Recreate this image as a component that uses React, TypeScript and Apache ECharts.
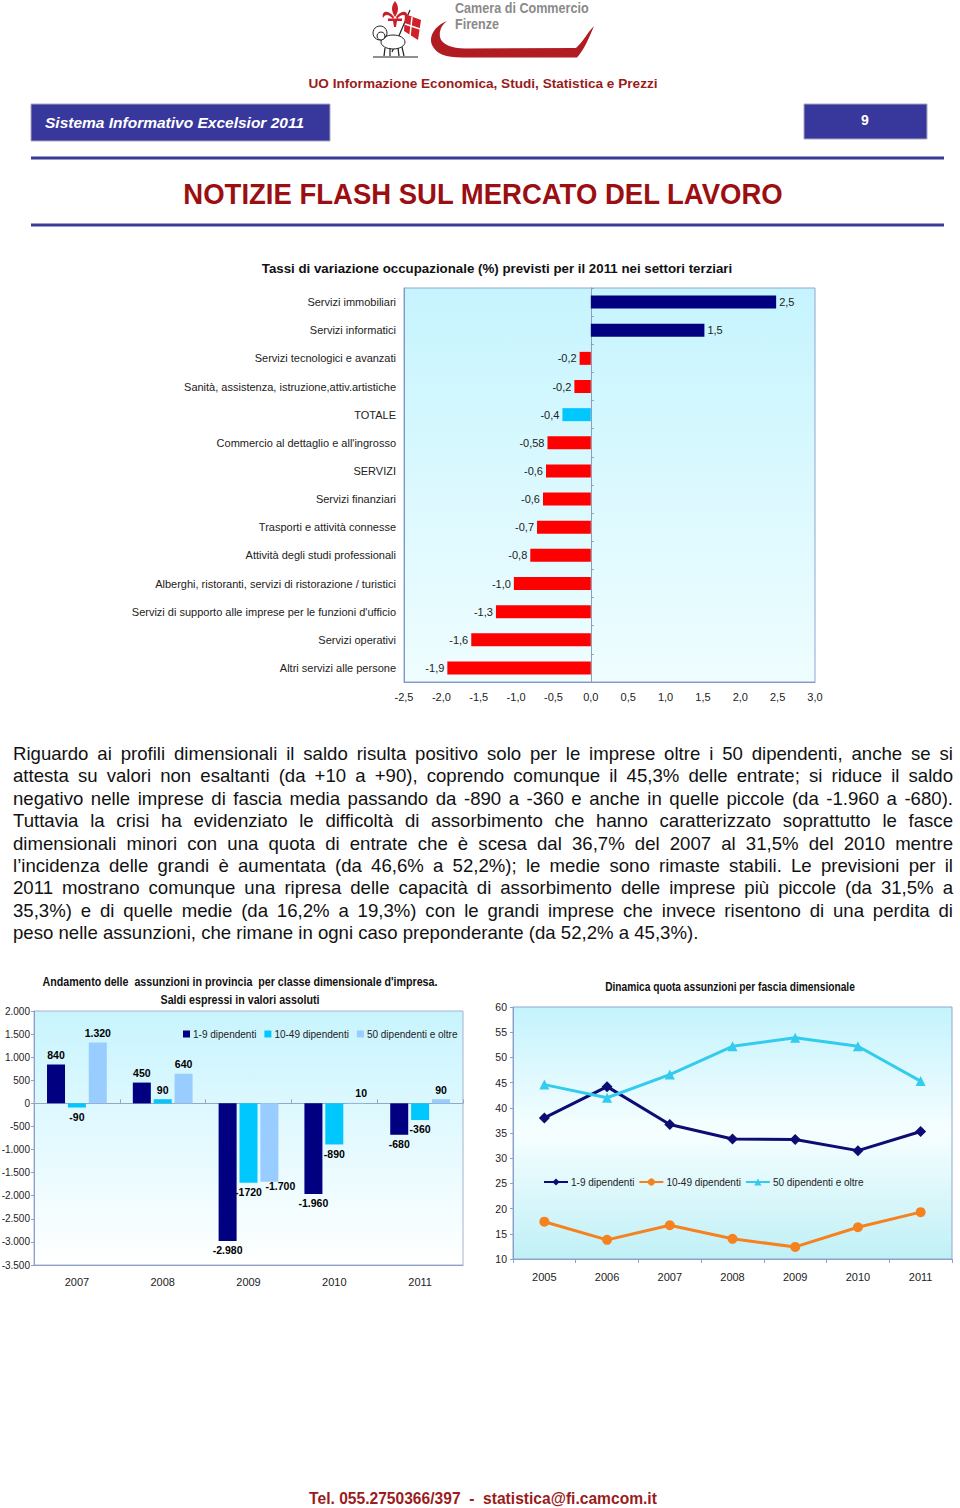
import React, { useEffect, useRef } from "react";
import * as echarts from "echarts";

// ---------- DATA ----------
const sectors = [
  "Servizi immobiliari",
  "Servizi informatici",
  "Servizi tecnologici e avanzati",
  "Sanità, assistenza, istruzione,attiv.artistiche",
  "TOTALE",
  "Commercio al dettaglio e all'ingrosso",
  "SERVIZI",
  "Servizi finanziari",
  "Trasporti e attività connesse",
  "Attività degli studi professionali",
  "Alberghi, ristoranti, servizi di ristorazione / turistici",
  "Servizi di supporto alle imprese per le funzioni d'ufficio",
  "Servizi operativi",
  "Altri servizi alle persone",
];
const sectorValues = [2.48, 1.52, -0.15, -0.22, -0.38, -0.58, -0.6, -0.64, -0.72, -0.81, -1.03, -1.27, -1.6, -1.92];
const sectorLabels = ["2,5", "1,5", "-0,2", "-0,2", "-0,4", "-0,58", "-0,6", "-0,6", "-0,7", "-0,8", "-1,0", "-1,3", "-1,6", "-1,9"];

const years = ["2007", "2008", "2009", "2010", "2011"];
const sizeNames = ["1-9 dipendenti", "10-49 dipendenti", "50 dipendenti e oltre"];
const saldoSmall = [840, 450, -2980, -1960, -680];
const saldoMedium = [-90, 90, -1720, -890, -360];
const saldoLarge = [1320, 640, -1700, 10, 90];
const saldoSmallLabels = ["840", "450", "-2.980", "-1.960", "-680"];
const saldoMediumLabels = ["-90", "90", "-1720", "-890", "-360"];
const saldoLargeLabels = ["1.320", "640", "-1.700", "10", "90"];

const shareYears = ["2005", "2006", "2007", "2008", "2009", "2010", "2011"];
const shareSmall = [38.0, 44.2, 36.7, 33.8, 33.7, 31.5, 35.3];
const shareMedium = [17.4, 13.8, 16.7, 14.0, 12.4, 16.3, 19.3];
const shareLarge = [44.6, 42.0, 46.6, 52.2, 53.9, 52.2, 45.3];

const paragraphLines = [
  "Riguardo ai profili dimensionali il saldo risulta positivo solo per le imprese oltre i 50 dipendenti, anche se si",
  "attesta su valori non esaltanti (da +10 a +90), coprendo comunque il 45,3% delle entrate; si riduce il saldo",
  "negativo nelle imprese di fascia media passando da -890 a -360 e anche in quelle piccole (da -1.960 a -680).",
  "Tuttavia la crisi ha evidenziato le difficoltà di assorbimento che hanno caratterizzato soprattutto le fasce",
  "dimensionali minori con una quota di entrate che è scesa dal 36,7% del 2007 al 31,5% del 2010 mentre",
  "l\u2019incidenza delle grandi è aumentata (da 46,6% a 52,2%); le medie sono rimaste stabili. Le previsioni per il",
  "2011 mostrano comunque una ripresa delle capacità di assorbimento delle imprese più piccole (da 31,5% a",
  "35,3%) e di quelle medie (da 16,2% a 19,3%) con le grandi imprese che invece risentono di una perdita di",
  "peso nelle assunzioni, che rimane in ogni caso preponderante (da 52,2% a 45,3%).",
];

// ---------- STYLE ----------
const SANS = "'Liberation Sans',Arial,Helvetica,sans-serif";
const NAVY = "#000080";
const RED = "#ff0000";
const CYAN = "#00c8ff";
const LIGHTBLUE = "#99ccff";
const DARKRED = "#9a1c20";

const SWOOSH =
  "M447 21 C436 25 428 36 432 45 C436 54 446 57.5 462 57.5 L577 57.5 C584 50 589 38 594 26 C587 33 583 42 576 48 L465 48.5 C452 48.5 441 44 440 37 C439 30 442 25 447 21 Z";
const FLEUR =
  "M395 1 C391 6 391 11 395 17 C399 11 399 6 395 1 Z M394 17 C388 9 381 11 383 18 C385 14 389 14 393 19 Z M396 17 C402 9 409 11 407 18 C405 14 401 14 397 19 Z M388 18.5 L402 18.5 L402 21 L388 21 Z M393 21 L397 21 L396 27 L394 27 Z";

let registered = false;
function registerShapes() {
  if (registered) return;
  registered = true;
  echarts.graphic.registerShape("swoosh", echarts.graphic.extendPath(SWOOSH, {}));
  echarts.graphic.registerShape("fleur", echarts.graphic.extendPath(FLEUR, {}));
}

function fmtThousands(v: number): string {
  const s = Math.abs(v).toString().replace(/\B(?=(\d{3})+(?!\d))/g, ".");
  return (v < 0 ? "-" : "") + s;
}

function txt(x: number, y: number, text: string, font: string, fill: string, align = "center", scaleX = 1) {
  return {
    type: "text",
    x,
    y,
    scaleX,
    style: { text, font, fill, align, verticalAlign: "middle" },
  };
}

function mainOption(): any {
  const headerGraphics: any[] = [
    // logo
    { type: "fleur", x: 0, y: 0, style: { fill: "#c8202a" } },
    { type: "line", shape: { x1: 392, y1: 52, x2: 410, y2: 10 }, style: { stroke: "#222", lineWidth: 1.2 } },
    { type: "polygon", shape: { points: [[405, 14], [421, 20], [418, 40], [404, 31]] }, style: { fill: "#d0202a" } },
    { type: "line", shape: { x1: 412, y1: 17, x2: 410, y2: 36 }, style: { stroke: "#fff", lineWidth: 1.5 } },
    { type: "line", shape: { x1: 405, y1: 24, x2: 420, y2: 29 }, style: { stroke: "#fff", lineWidth: 1.5 } },
    { type: "ellipse", shape: { cx: 393, cy: 42, rx: 12, ry: 7 }, style: { fill: "#fff", stroke: "#222", lineWidth: 1 } },
    { type: "circle", shape: { cx: 380, cy: 33, r: 7 }, style: { fill: "none", stroke: "#222", lineWidth: 1 } },
    { type: "circle", shape: { cx: 381, cy: 36, r: 4 }, style: { fill: "#fff", stroke: "#222", lineWidth: 1 } },
    { type: "line", shape: { x1: 385, y1: 48, x2: 384, y2: 56 }, style: { stroke: "#222", lineWidth: 1.2 } },
    { type: "line", shape: { x1: 390, y1: 48, x2: 390, y2: 56 }, style: { stroke: "#222", lineWidth: 1.2 } },
    { type: "line", shape: { x1: 398, y1: 48, x2: 399, y2: 56 }, style: { stroke: "#222", lineWidth: 1.2 } },
    { type: "line", shape: { x1: 402, y1: 47, x2: 404, y2: 56 }, style: { stroke: "#222", lineWidth: 1.2 } },
    { type: "line", shape: { x1: 373, y1: 57, x2: 418, y2: 57 }, style: { stroke: "#222", lineWidth: 1.2 } },
    { type: "swoosh", x: 0, y: 0, style: { fill: "#b01c22" } },
    txt(455, 8, "Camera di Commercio", `bold 15px ${SANS}`, "#8a8a8a", "left", 0.84),
    txt(455, 24, "Firenze", `bold 15px ${SANS}`, "#8a8a8a", "left", 0.84),
    txt(483, 83, "UO Informazione Economica, Studi, Statistica e Prezzi", `bold 13.6px ${SANS}`, DARKRED),
    // boxes
    { type: "rect", shape: { x: 31, y: 104, width: 299, height: 37 }, style: { fill: "#38389c", stroke: "#a8a8c0", lineWidth: 1 } },
    txt(45, 122, "Sistema Informativo Excelsior 2011", `italic bold 15.5px ${SANS}`, "#fff", "left"),
    { type: "rect", shape: { x: 804, y: 104, width: 123, height: 35 }, style: { fill: "#38389c", stroke: "#a8a8c0", lineWidth: 1 } },
    txt(865, 120, "9", `bold 14px ${SANS}`, "#fff"),
    { type: "line", shape: { x1: 31, y1: 158, x2: 944, y2: 158 }, style: { stroke: "#3b3b98", lineWidth: 3 } },
    txt(483, 194, "NOTIZIE FLASH SUL MERCATO DEL LAVORO", `bold 30px ${SANS}`, "#9b0f12", "center", 0.917),
    { type: "line", shape: { x1: 31, y1: 225, x2: 944, y2: 225 }, style: { stroke: "#3b3b98", lineWidth: 3 } },
    txt(497, 268, "Tassi di variazione occupazionale (%) previsti per il 2011 nei settori terziari", `bold 13.3px ${SANS}`, "#111"),
    txt(483, 1498, "Tel. 055.2750366/397  -  statistica@fi.camcom.it", `bold 15.6px ${SANS}`, DARKRED),
  ];

  return {
    animation: false,
    textStyle: { fontFamily: SANS },
    grid: {
      left: 404,
      right: 145,
      top: 288,
      bottom: 826,
      outerBoundsMode: "none",
      show: true,
      backgroundColor: new echarts.graphic.LinearGradient(0, 0, 0, 1, [
        { offset: 0, color: "#c6f4fe" },
        { offset: 1, color: "#effdff" },
      ]),
      borderColor: "#8ea6d2",
      borderWidth: 1,
    },
    xAxis: {
      type: "value",
      min: -2.5,
      max: 3,
      interval: 0.5,
      splitLine: { show: false },
      axisLine: { show: true, lineStyle: { color: "#7f98c8" } },
      axisTick: { show: false },
      axisLabel: {
        formatter: (v: number) => v.toFixed(1).replace(".", ","),
        fontSize: 11,
        color: "#222",
        margin: 9,
      },
    },
    yAxis: [
      {
        type: "category",
        data: sectors,
        inverse: true,
        axisLine: { show: true, onZero: false, lineStyle: { color: "#7f98c8" } },
        axisTick: { show: false },
        axisLabel: { fontSize: 11, color: "#222", margin: 8 },
      },
      {
        type: "category",
        data: sectors,
        inverse: true,
        axisLine: { show: true, onZero: true, lineStyle: { color: "#8f9fb8" } },
        axisTick: { show: true, length: 3, lineStyle: { color: "#8f9fb8" } },
        axisLabel: { show: false },
      },
    ],
    series: [
      {
        type: "bar",
        yAxisIndex: 0,
        barWidth: 13,
        data: sectorValues.map((v, i) => ({
          value: v,
          itemStyle: { color: sectors[i] === "TOTALE" ? CYAN : v >= 0 ? NAVY : RED },
          label: { position: v >= 0 ? "right" : "left" },
        })),
        label: {
          show: true,
          formatter: (p: any) => sectorLabels[p.dataIndex],
          fontSize: 11,
          color: "#222",
          distance: 3,
        },
      },
    ],
    graphic: { elements: headerGraphics },
  };
}

function barOption(): any {
  const arrs = [saldoSmall, saldoMedium, saldoLarge];
  const labs = [saldoSmallLabels, saldoMediumLabels, saldoLargeLabels];
  const colors = [NAVY, CYAN, LIGHTBLUE];
  // small label nudges, as in the original layout
  const nudge = (si: number, i: number) => {
    if (si === 2 && i === 2) return [11, -5];
    if (si === 2 && i === 3) return [6, 0];
    return [0, 0];
  };
  return {
    animation: false,
    textStyle: { fontFamily: SANS },
    graphic: {
      elements: [
        txt(240, 22, "Andamento delle  assunzioni in provincia  per classe dimensionale d'impresa.", `bold 12px ${SANS}`, "#111", "center", 0.89),
        txt(240, 40, "Saldi espressi in valori assoluti", `bold 12px ${SANS}`, "#111", "center", 0.89),
      ],
    },
    legend: {
      data: sizeNames,
      left: 178,
      top: 64,
      icon: "rect",
      itemWidth: 7,
      itemHeight: 7,
      itemGap: 8,
      textStyle: { fontSize: 10, color: "#222", padding: [0, 0, 0, -2] },
    },
    grid: {
      left: 34,
      right: 7,
      top: 51,
      bottom: 35,
      outerBoundsMode: "none",
      show: true,
      backgroundColor: new echarts.graphic.LinearGradient(0, 0, 0, 1, [
        { offset: 0, color: "#c8f4fe" },
        { offset: 1, color: "#ffffff" },
      ]),
      borderColor: "#a6b2cc",
      borderWidth: 1,
    },
    xAxis: [
      {
        type: "category",
        data: years,
        axisLine: { show: true, onZero: false, lineStyle: { color: "#8ea0c8" } },
        axisTick: { show: false },
        axisLabel: { fontSize: 11, color: "#222", margin: 11 },
      },
      {
        type: "category",
        data: years,
        axisLine: { show: true, onZero: true, lineStyle: { color: "#9aa6c0" } },
        axisTick: { show: true, length: 4, lineStyle: { color: "#9aa6c0" } },
        axisLabel: { show: false },
      },
    ],
    yAxis: {
      type: "value",
      min: -3500,
      max: 2000,
      interval: 500,
      splitLine: { show: false },
      axisLine: { show: true, lineStyle: { color: "#8ea0c8" } },
      axisTick: { show: true, length: 3 },
      axisLabel: { formatter: (v: number) => fmtThousands(v), fontSize: 10, color: "#222", margin: 4 },
    },
    series: arrs.map((arr, si) => ({
      name: sizeNames[si],
      type: "bar",
      xAxisIndex: 0,
      barWidth: 18,
      barGap: "16%",
      itemStyle: { color: colors[si] },
      data: arr.map((v, i) => ({
        value: v,
        label: { position: v >= 0 ? "top" : "bottom", offset: nudge(si, i) },
      })),
      label: {
        show: true,
        formatter: (p: any) => labs[si][p.dataIndex],
        fontSize: 10.5,
        fontWeight: "bold",
        color: "#000",
        distance: 4,
      },
    })),
  };
}

function lineOption(): any {
  const arrs = [shareSmall, shareMedium, shareLarge];
  const colors = ["#0c0c74", "#f5821f", "#33ccee"];
  const symbols = ["diamond", "circle", "triangle"];
  const sizes = [11, 10, 10];
  return {
    animation: false,
    textStyle: { fontFamily: SANS },
    graphic: {
      elements: [txt(255, 27, "Dinamica quota assunzioni per fascia dimensionale", `bold 12px ${SANS}`, "#111", "center", 0.85)],
    },
    legend: {
      data: sizeNames,
      left: 63,
      top: 212,
      itemWidth: 24,
      itemHeight: 9,
      itemGap: 4,
      textStyle: { fontSize: 10, color: "#222", padding: [0, 0, 0, -2] },
    },
    grid: {
      left: 38,
      right: 8,
      top: 47,
      bottom: 41,
      outerBoundsMode: "none",
      show: true,
      backgroundColor: new echarts.graphic.LinearGradient(0, 0, 0, 1, [
        { offset: 0, color: "#c4f3fd" },
        { offset: 0.5, color: "#f6feff" },
        { offset: 1, color: "#bff0f6" },
      ]),
      borderColor: "#8ea6d2",
      borderWidth: 1,
    },
    xAxis: {
      type: "category",
      data: shareYears,
      axisLine: { show: true, lineStyle: { color: "#8ea0c8" } },
      axisTick: { show: true, length: 4, lineStyle: { color: "#8ea0c8" } },
      axisLabel: { fontSize: 11, color: "#222", margin: 12 },
    },
    yAxis: {
      type: "value",
      min: 10,
      max: 60,
      interval: 5,
      splitLine: { show: false },
      axisLine: { show: true, lineStyle: { color: "#8ea0c8" } },
      axisTick: { show: true, length: 3 },
      axisLabel: { fontSize: 10.5, color: "#222", margin: 6 },
    },
    series: arrs.map((arr, si) => ({
      name: sizeNames[si],
      type: "line",
      data: arr,
      symbol: symbols[si],
      symbolSize: sizes[si],
      lineStyle: { width: 3, color: colors[si] },
      itemStyle: { color: colors[si] },
    })),
  };
}

function useChart(ref: React.RefObject<HTMLDivElement | null>, make: () => any) {
  useEffect(() => {
    if (!ref.current) return;
    registerShapes();
    const chart = echarts.init(ref.current, undefined, { renderer: "svg" });
    chart.setOption(make());
    return () => chart.dispose();
  }, []);
}

export default function App() {
  const mainRef = useRef<HTMLDivElement>(null);
  const barRef = useRef<HTMLDivElement>(null);
  const lineRef = useRef<HTMLDivElement>(null);
  useChart(mainRef, mainOption);
  useChart(barRef, barOption);
  useChart(lineRef, lineOption);

  return (
    <div style={{ position: "absolute", left: 0, top: 0, width: 960, height: 1508, background: "#fff", overflow: "hidden" }}>
      <div ref={mainRef} style={{ position: "absolute", left: 0, top: 0, width: 960, height: 1508 }} />
      <div
        style={{
          position: "absolute",
          left: 13,
          top: 743,
          width: 940,
          fontFamily: SANS,
          fontSize: 18.6,
          lineHeight: "22.4px",
          color: "#111",
        }}
      >
        {paragraphLines.map((l, i) => (
          <div
            key={i}
            style={{
              textAlign: "justify",
              textAlignLast: i === paragraphLines.length - 1 ? "left" : "justify",
            }}
          >
            {l}
          </div>
        ))}
      </div>
      <div ref={barRef} style={{ position: "absolute", left: 0, top: 960, width: 470, height: 340 }} />
      <div ref={lineRef} style={{ position: "absolute", left: 475, top: 960, width: 485, height: 340 }} />
    </div>
  );
}
